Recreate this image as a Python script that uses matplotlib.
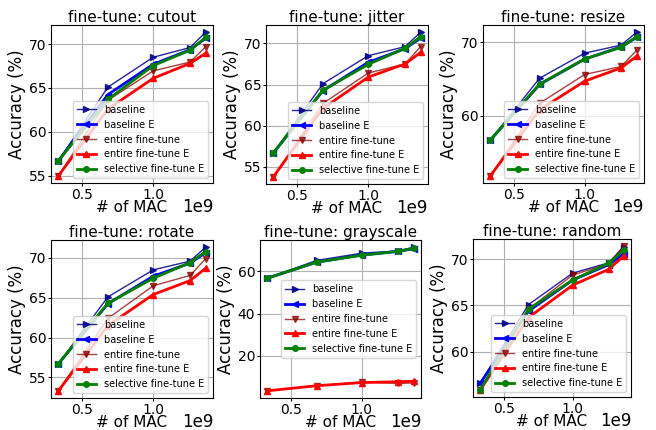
"""Accuracy vs MAC count for each fine-tuning augmentation."""

import matplotlib
matplotlib.use("Agg")
import matplotlib.pyplot as plt
from matplotlib.ticker import MaxNLocator

# number of MACs (x 1e9)
mac = [0.33e9, 0.68e9, 1.00e9, 1.26e9, 1.37e9]

# same baseline curves in every panel
baseline = [56.7, 65.1, 68.5, 69.6, 71.35]
baseline_e = [56.7, 64.25, 67.7, 69.35, 70.65]

cutout_entire = [55.0, 63.6, 66.95, 67.95, 69.7]
cutout_entire_e = [55.0, 62.6, 66.1, 67.8, 68.95]
cutout_selective = [56.7, 63.7, 67.55, 69.3, 70.75]

jitter_entire = [53.8, 62.7, 66.4, 67.5, 69.6]
jitter_entire_e = [53.8, 62.1, 65.9, 67.5, 68.9]
jitter_selective = [56.7, 64.3, 67.45, 69.4, 70.8]

resize_entire = [51.85, 61.7, 65.6, 66.7, 68.9]
resize_entire_e = [51.85, 60.8, 64.7, 66.5, 68.1]
resize_selective = [56.7, 64.3, 67.7, 69.3, 70.75]

rotate_entire = [53.3, 62.4, 66.5, 67.8, 69.9]
rotate_entire_e = [53.3, 61.5, 65.4, 67.15, 68.7]
rotate_selective = [56.7, 64.3, 67.45, 69.4, 70.8]

gray_entire = [3.5, 5.9, 7.6, 7.0, 7.2]
gray_entire_e = [3.5, 5.9, 7.4, 7.8, 8.0]
gray_selective = [56.7, 64.3, 67.5, 69.4, 70.8]

random_entire = [55.9, 64.6, 68.3, 69.5, 71.4]
random_entire_e = [55.9, 63.7, 67.2, 68.9, 70.35]
random_selective = [55.9, 64.6, 67.75, 69.55, 71.0]
random_baseline = [56.6, 65.1, 68.5, 69.6, 71.35]
random_baseline_e = [56.6, 64.4, 67.75, 69.4, 70.6]

panels = [
    ("cutout", baseline, baseline_e, cutout_entire, cutout_entire_e, cutout_selective),
    ("jitter", baseline, baseline_e, jitter_entire, jitter_entire_e, jitter_selective),
    ("resize", baseline, baseline_e, resize_entire, resize_entire_e, resize_selective),
    ("rotate", baseline, baseline_e, rotate_entire, rotate_entire_e, rotate_selective),
    ("grayscale", baseline, baseline_e, gray_entire, gray_entire_e, gray_selective),
    ("random", random_baseline, random_baseline_e, random_entire, random_entire_e, random_selective),
]

# axes boxes in pixels: left, right, top, bottom
boxes = [
    (51, 213, 25, 183),
    (266, 428, 25, 184),
    (483, 644, 25, 183),
    (51, 213, 240, 398),
    (260, 421, 240, 398),
    (473, 631, 239, 397),
]

W, H = 656, 430
fig = plt.figure(figsize=(W / 100, H / 100), dpi=100)

for (name, b, be, ent, ent_e, sel), (l, r, t, bt) in zip(panels, boxes):
    ax = fig.add_axes([l / W, (H - bt) / H, (r - l) / W, (bt - t) / H])
    ax.plot(mac, b, marker=">", color="darkblue", lw=1, ms=4, alpha=0.85, label="baseline")
    ax.plot(mac, be, marker="<", color="blue", lw=2, ms=4, label="baseline E")
    ax.plot(mac, ent, marker="v", color="darkred", lw=1, ms=4, alpha=0.75, label="entire fine-tune")
    ax.plot(mac, ent_e, marker="^", color="red", lw=2, ms=4, label="entire fine-tune E")
    ax.plot(mac, sel, marker="o", color="green", lw=2, ms=4, label="selective fine-tune E")
    ax.grid(True)
    ax.set_title(f"fine-tune: {name}", fontsize=11, pad=2)
    ax.set_xlabel("# of MAC", fontsize=11, labelpad=-1)
    ax.set_ylabel("Accuracy (%)", fontsize=12, labelpad=2)
    ax.tick_params(labelsize=10, length=2, pad=1.5)
    ax.yaxis.set_major_locator(MaxNLocator(4, steps=[1, 2, 2.5, 5, 10]))
    ax.xaxis.OFFSETTEXTPAD = -2.5
    ax.xaxis.get_offset_text().set_fontsize(12)
    ax.legend(loc="center right" if name == "grayscale" else "lower right", fontsize=7)

fig.savefig("out.png", dpi=100)
